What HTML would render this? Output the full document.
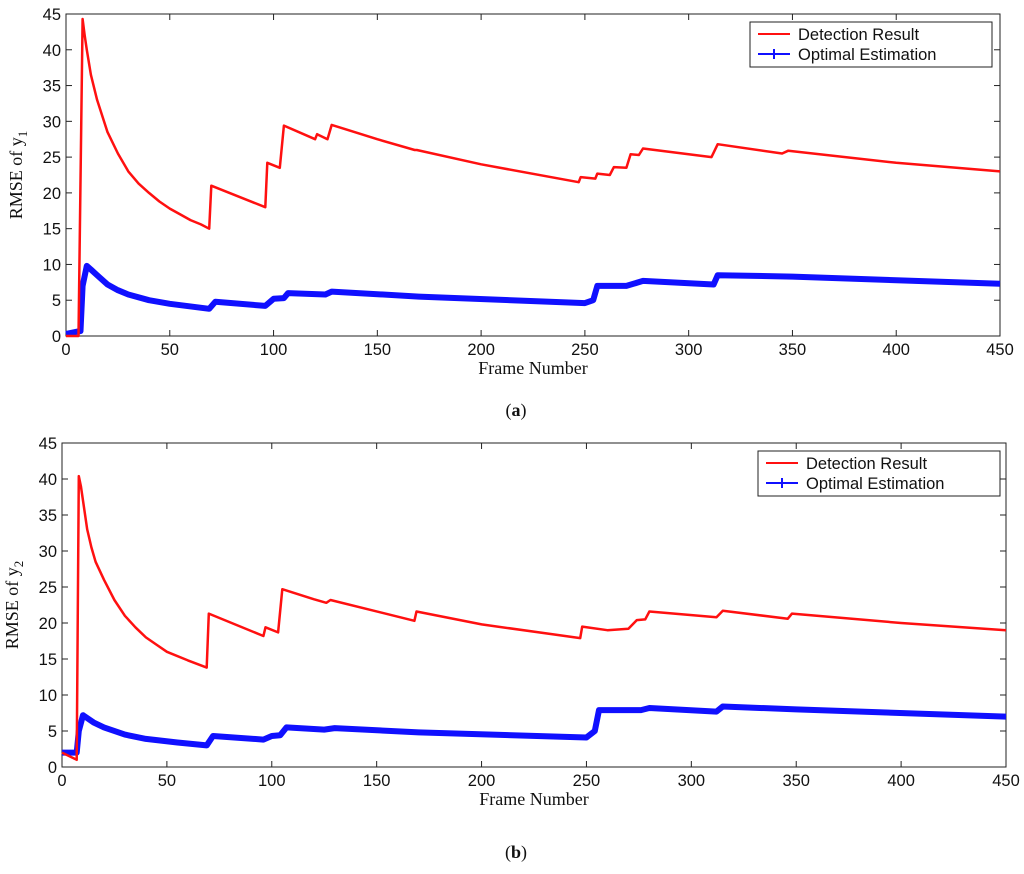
<!DOCTYPE html>
<html><head><meta charset="utf-8"><style>
body{margin:0;background:#fff;width:1024px;height:869px;overflow:hidden}
svg text{font-family:"Liberation Sans",sans-serif;font-size:16.5px;fill:#111}
.serif{font-family:"Liberation Serif",serif;font-size:18px}
</style></head><body>
<svg id="s" width="1024" height="869"></svg>
<script>
const xTicks=[0,50,100,150,200,250,300,350,400,450];
const yTicks=[0,5,10,15,20,25,30,35,40,45];
const redA_x=[0,6,8,9,10,12,15,20,25,30,35,40,45,50,55,60,65,69,70,96,97,103,105,120,121,126,128,150,168,169,200,247,248,255,256,262,264,270,272,276,278,311,314,345,348,400,450];
const redA_y=[0,0,44.3,42,40,36.5,33,28.5,25.5,23,21.3,20,18.8,17.8,17,16.2,15.6,15,21,18,24.2,23.5,29.4,27.5,28.2,27.5,29.5,27.5,26,26,24,21.5,22.2,22,22.7,22.5,23.6,23.5,25.4,25.3,26.2,25,26.8,25.5,25.9,24.2,23];
const blueA_x=[0,7,8,10,12,15,20,25,30,40,50,69,72,96,100,105,107,125,128,170,250,254,256,270,278,312,314,350,450];
const blueA_y=[0.3,0.7,7,9.8,9.3,8.5,7.2,6.4,5.8,5,4.5,3.8,4.8,4.2,5.2,5.3,6,5.8,6.2,5.5,4.6,5,7,7,7.7,7.2,8.5,8.3,7.3];
const redB_x=[0,7,8,9,10,12,14,16,20,25,30,35,40,45,50,60,69,70,96,97,103,105,120,126,128,168,169,200,247,248,260,270,274,278,280,312,315,346,348,400,450];
const redB_y=[2,1,40.4,39,37,33,30.5,28.5,26,23.2,21,19.4,18,17,16,14.8,13.8,21.3,18.2,19.4,18.7,24.7,23.3,22.8,23.2,20.3,21.6,19.8,17.9,19.5,19,19.2,20.4,20.5,21.6,20.8,21.7,20.6,21.3,20,19];
const blueB_x=[0,7,8,10,15,20,30,40,55,69,72,96,100,104,107,125,130,170,250,254,256,276,280,312,315,350,450];
const blueB_y=[2,2,5,7.2,6.2,5.5,4.5,3.9,3.4,3,4.3,3.8,4.3,4.4,5.5,5.2,5.4,4.8,4.1,5,7.9,7.9,8.2,7.7,8.4,8,7];
const NS="http://www.w3.org/2000/svg",svg=document.getElementById('s');
function mk(tag,at,parent,txt){const e=document.createElementNS(NS,tag);for(const k in at)e.setAttribute(k,at[k]);if(txt!==undefined)e.textContent=txt;(parent||svg).appendChild(e);return e;}
function chart(id,L,R,T,B,rx,ry,bx,by,sub,cap,capY,leg){
 const g=mk('g',{});
 
 
 const X=v=>L+(R-L)*v/450,Y=v=>B-(B-T)*v/45;
 const box=mk('rect',{x:L,y:T,width:R-L,height:B-T,fill:'none',stroke:'#222','stroke-width':1},g);
 
 
 xTicks.forEach(v=>{mk('line',{x1:X(v),x2:X(v),y1:B,y2:B-6,stroke:'#222'},g);mk('line',{x1:X(v),x2:X(v),y1:T,y2:T+6,stroke:'#222'},g);
  const t=mk('text',{x:X(v),y:B+19,'text-anchor':'middle'},g,v);
  
  });
 yTicks.forEach(v=>{mk('line',{x1:L,x2:L+6,y1:Y(v),y2:Y(v),stroke:'#222'},g);mk('line',{x1:R,x2:R-6,y1:Y(v),y2:Y(v),stroke:'#222'},g);
  const t=mk('text',{x:L-5,y:Y(v)+6,'text-anchor':'end'},g,v);
  
  });
 const pts=(xs,ys)=>xs.map((x,i)=>X(x).toFixed(1)+','+Y(ys[i]).toFixed(1)).join(' ');
 const bl=mk('polyline',{points:pts(bx,by),fill:'none',stroke:'#1010ff','stroke-width':6,'stroke-linejoin':'round'},g);
 
 
 const rl=mk('polyline',{points:pts(rx,ry),fill:'none',stroke:'#ff1010','stroke-width':2.5,'stroke-linejoin':'round'},g);
 
 
 const xt=mk('text',{x:(L+R)/2,y:B+38,'text-anchor':'middle',class:'serif'},g,'Frame Number');
 
 
 const yt=mk('text',{x:0,y:0,'text-anchor':'middle',class:'serif',transform:`translate(${L-44},${(T+B)/2}) rotate(-90)`},g);
 yt.innerHTML='RMSE of  y<tspan dy="5" font-size="13">'+sub+'</tspan>';
 
 
 const lg=mk('g',{},g);
 
 
 mk('rect',{x:leg[0],y:leg[1],width:leg[2],height:45,fill:'#fff',stroke:'#222'},lg);
 mk('line',{x1:leg[0]+8,x2:leg[0]+40,y1:leg[1]+12,y2:leg[1]+12,stroke:'#ff1010','stroke-width':2},lg);
 mk('line',{x1:leg[0]+8,x2:leg[0]+40,y1:leg[1]+32,y2:leg[1]+32,stroke:'#1010ff','stroke-width':2},lg);
 mk('line',{x1:leg[0]+24,x2:leg[0]+24,y1:leg[1]+27,y2:leg[1]+37,stroke:'#1010ff','stroke-width':2},lg);
 mk('text',{x:leg[0]+48,y:leg[1]+18,'font-size':'15'},lg,'Detection Result');
 mk('text',{x:leg[0]+48,y:leg[1]+38,'font-size':'15'},lg,'Optimal Estimation');
 const c=mk('text',{x:516,y:capY,'text-anchor':'middle',class:'serif','font-size':'22'},g);
 c.innerHTML='(<tspan font-weight="bold">'+cap+'</tspan>)';
 
 
}
chart('chart-a',66,1000,14,336,redA_x,redA_y,blueA_x,blueA_y,'1','a',416,[750,22,242]);
chart('chart-b',62,1006,443,767,redB_x,redB_y,blueB_x,blueB_y,'2','b',858,[758,451,242]);
</script>
</body></html>
